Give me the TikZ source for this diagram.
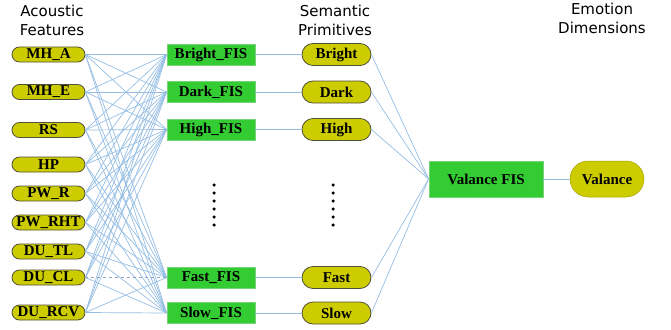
\documentclass[tikz,border=0pt]{standalone}
\usepackage{fontspec}
\setmainfont{Liberation Serif}
\newfontfamily\hdfont{DejaVu Sans}
\usetikzlibrary{shapes.misc}
\definecolor{pillfill}{RGB}{204,204,0}
\definecolor{pillline}{RGB}{80,80,60}
\definecolor{boxfill}{RGB}{51,204,51}
\definecolor{boxline}{RGB}{120,210,120}
\definecolor{wire}{RGB}{150,190,228}
\definecolor{dashwire}{RGB}{140,165,195}
\begin{document}
\begin{tikzpicture}[x=1pt,y=-1pt,
  lbl/.style={font=\bfseries\fontsize{15}{15}\selectfont, text=black},
  feat/.style={lbl, rounded rectangle, draw=pillline, line width=0.8pt, fill=pillfill, minimum width=73pt, minimum height=15pt, inner sep=0pt},
  prim/.style={lbl, rounded rectangle, draw=pillline, line width=0.8pt, fill=pillfill, minimum width=69pt, minimum height=22pt, inner sep=0pt},
  emo/.style={lbl, rounded rectangle, draw=pillfill!80!black, line width=0.5pt, fill=pillfill, minimum width=74pt, minimum height=36pt, inner sep=0pt},
  fis/.style={lbl, rectangle, draw=boxline, line width=0.8pt, fill=boxfill, minimum width=88pt, minimum height=21pt, inner sep=0pt},
  vfis/.style={lbl, rectangle, draw=boxline, line width=0.8pt, fill=boxfill, minimum width=114pt, minimum height=36pt, inner sep=0pt},
  head/.style={font=\hdfont\fontsize{15}{19}\selectfont, align=center, inner sep=0pt},
  wirestyle/.style={draw=wire, line width=0.7pt},
  dotstyle/.style={fill=black, draw=none, circle, inner sep=0pt, minimum size=3.5pt}
]
\useasboundingbox (0,0) rectangle (671,329);

% headers
\node[head] (h1) at (52,20) {Acoustic\\Features};
\node[head] (h2) at (335,20) {Semantic\\Primitives};
\node[head] (h3) at (602,18) {Emotion\\Dimensions};

% acoustic features
\node[feat] (f1) at (48.5,54.5) {MH\_A};
\node[feat] (f2) at (48.5,92) {MH\_E};
\node[feat] (f3) at (48.5,130) {RS};
\node[feat] (f4) at (48.5,164.5) {HP};
\node[feat] (f5) at (48.5,193.5) {PW\_R};
\node[feat] (f6) at (48.5,222.5) {PW\_RHT};
\node[feat] (f7) at (48.5,251.5) {DU\_TL};
\node[feat] (f8) at (48.5,277.5) {DU\_CL};
\node[feat] (f9) at (48.5,312.5) {DU\_RCV};

% FIS boxes
\node[fis] (b1) at (211,54.5) {Bright\_FIS};
\node[fis] (b2) at (211,92) {Dark\_FIS};
\node[fis] (b3) at (211,129.5) {High\_FIS};
\node[fis] (b4) at (211,277.5) {Fast\_FIS};
\node[fis] (b5) at (211,313) {Slow\_FIS};

% primitives
\node[prim] (p1) at (336.5,54.5) {Bright};
\node[prim] (p2) at (336.5,92) {Dark};
\node[prim] (p3) at (336.5,129.5) {High};
\node[prim] (p4) at (336.5,277.5) {Fast};
\node[prim] (p5) at (336.5,313) {Slow};

% valance
\node[vfis] (v) at (486,179) {Valance FIS};
\node[emo] (e) at (607,179) {Valance};

% dots
\foreach \i in {0,...,5} {
  \node[dotstyle] (da\i) at (214,185+8*\i) {};
  \node[dotstyle] (db\i) at (333,185+8*\i) {};
}

% mesh
\foreach \f in {1,...,9} {
  \foreach \b in {1,...,5} {
    \ifnum\f=8 \ifnum\b=4 \else
      \draw[wirestyle] (f\f.east) -- (b\b.west);
    \fi\else
      \draw[wirestyle] (f\f.east) -- (b\b.west);
    \fi
  }
}
\draw[draw=dashwire, line width=0.8pt, dashed] (f8.east) -- (b4.west);

\foreach \i in {1,...,5} {
  \draw[wirestyle] (b\i.east) -- (p\i.west);
  \draw[wirestyle] (p\i.east) -- (v.west);
}
\draw[wirestyle] (v.east) -- (e.west);
\end{tikzpicture}
\end{document}
